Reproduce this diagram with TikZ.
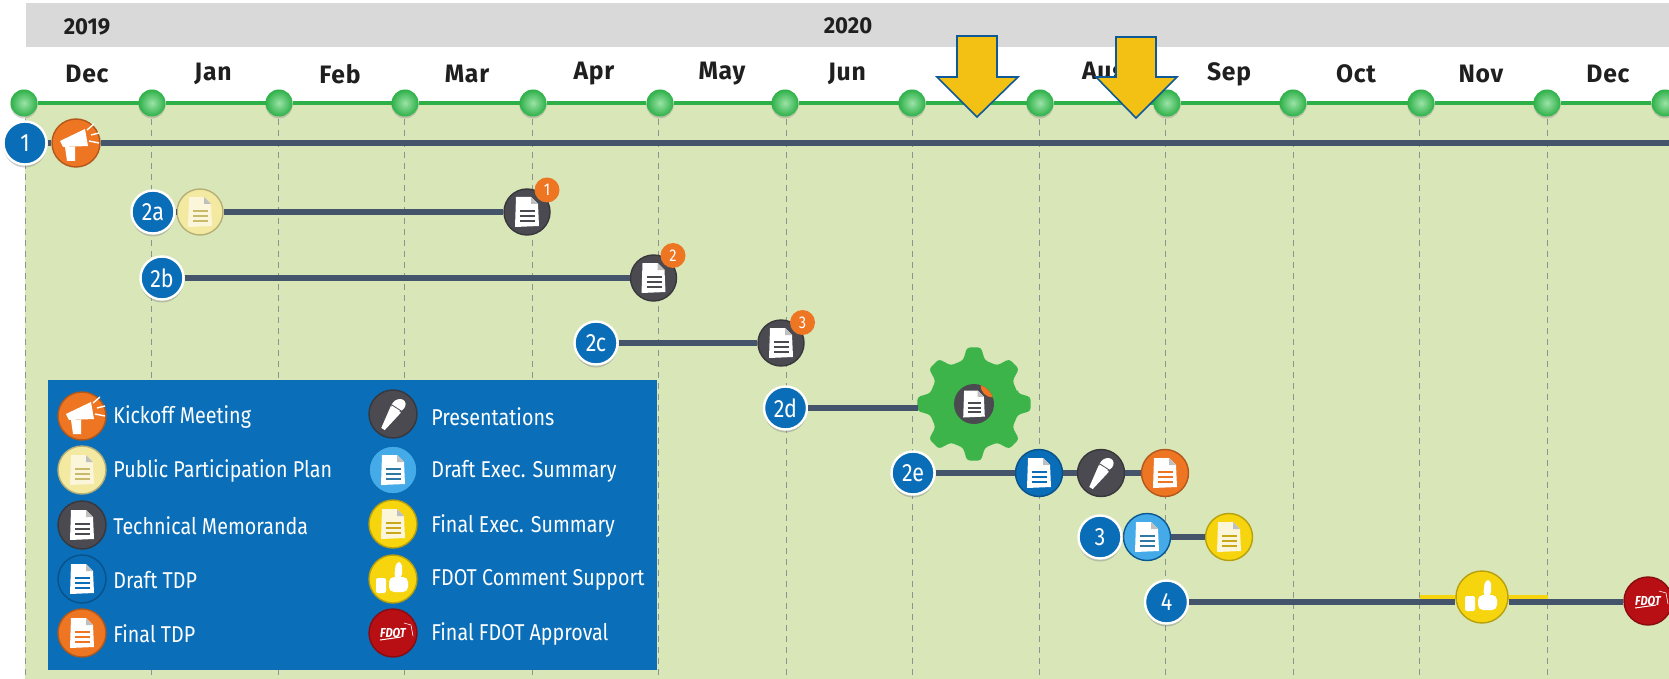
\documentclass[tikz,border=0pt]{standalone}
\usepackage{fontspec}
\setmainfont{Fira Sans}
\newfontfamily\lgfont{Fira Sans}[FakeStretch=0.86]
\newfontfamily\hdfont{Fira Sans}[FakeStretch=0.96]
\newfontfamily\mofont{Fira Sans}[FakeStretch=0.98,LetterSpace=3]
\usetikzlibrary{shadows}
\definecolor{bandgreen}{HTML}{D8E6B8}
\definecolor{bargray}{HTML}{D9D9D9}
\definecolor{tlgreen}{HTML}{2DB048}
\definecolor{dotlight}{HTML}{9BE3A6}
\definecolor{dashgray}{HTML}{8A9490}
\definecolor{conn}{HTML}{44546A}
\definecolor{numblue}{HTML}{0A6DB7}
\definecolor{lgblue}{HTML}{0A6EB8}
\definecolor{kickorange}{HTML}{EE7623}
\definecolor{plancream}{HTML}{F3E9A0}
\definecolor{planline}{HTML}{C9B96A}
\definecolor{planpaper}{HTML}{FBF6DA}
\definecolor{memodark}{HTML}{4A4A50}
\definecolor{draftblue}{HTML}{0A6DB7}
\definecolor{execblue}{HTML}{45ABE8}
\definecolor{execyellow}{HTML}{F6D50F}
\definecolor{execline}{HTML}{C9A61A}
\definecolor{fdotred}{HTML}{B80F14}
\definecolor{arrowfill}{HTML}{F2C114}
\definecolor{arrowline}{HTML}{0F5A96}
\definecolor{gearg}{HTML}{3CB44A}
\tikzset{
  hdtext/.style={font=\hdfont\bfseries\fontsize{11.5}{13}\selectfont,text=black!88,inner sep=0pt},
  motext/.style={font=\mofont\bfseries\fontsize{12.6}{14}\selectfont,text=black!88,inner sep=0pt},
  lgtext/.style={font=\lgfont\fontsize{11.45}{13}\selectfont,text=white,anchor=west,inner sep=0pt},
  dot/.style={circle,minimum size=13.5pt,inner sep=0pt,shading=radial,inner color=dotlight,outer color=tlgreen,drop shadow={shadow xshift=0pt,shadow yshift=-1pt,opacity=.35}},
  numnode/.style={circle,minimum size=21.5pt,inner sep=0pt,fill=numblue,draw=white,line width=1.2pt,text=white,font=\lgfont\fontsize{12.5}{14}\selectfont,drop shadow={shadow xshift=0pt,shadow yshift=-1.5pt,opacity=.4}},
  ico/.style 2 args={circle,minimum size=#2,inner sep=0pt,fill=#1,draw=#1!75!black,line width=.7pt},
  badge/.style={circle,minimum size=12.5pt,inner sep=0pt,fill=kickorange,text=white,font=\lgfont\fontsize{8.5}{9}\selectfont},
  fdottext/.style={text=white,font=\lgfont\bfseries\itshape\fontsize{6.5}{7}\selectfont},
  linkline/.style={draw=conn,line width=2.8pt},
  gridline/.style={draw=dashgray,line width=.5pt,dash pattern=on 3pt off 2.5pt},
  downarrow/.style={fill=arrowfill,draw=arrowline,line width=.8pt,line join=miter},
  pics/docg/.style 2 args={code={
    \fill[#1] (-11,-15)--(4,-15)--(11,-8)--(12,14)--(-12,15)--cycle;
    \fill[black!25] (4,-15)--(11,-8)--(4,-8)--cycle;
    \draw[#2,line width=1.1pt] (-7,-1)--(8,-1) (-7,4)--(8,4) (-7,9)--(8,9);
  }},
  pics/megaph/.style={code={
    \fill[white] (-16,-2)--(9,-14)--(12,3)--(-13,4)--cycle;
    \fill[white] (-11,4)--(-1,4)--(-1,18)--(-9,18)--cycle;
    \draw[white,line width=.7pt] (11,-13)--(18,-19) (15,-8)--(23,-10) (13,-2)--(23,0);
  }},
  pics/micg/.style={code={
    \fill[white] (7.9,-1.3)--(-2.2,-7.9)--(-11.7,13.9)--(-8.3,16.1)--cycle;
    \fill[white,rotate around={33:(5.5,-8.5)}] (5.5,-8.5) ellipse (7.5 and 6);
    \draw[memodark,line width=.4pt] (-1,-9)--(9,-2.5);
  }},
  pics/thumbg/.style={code={
    \fill[white,rounded corners=1pt] (-17,-1) rectangle (-7,14);
    \fill[white,rounded corners=2.5pt] (-4,-2) rectangle (15,13);
    \fill[white,rounded corners=2pt] (1,-1)--(3,-17)--(9,-17)--(9,-1)--cycle;
  }},
  pics/fdotg/.style={code={
    \draw[white,line width=.5pt] (-13,7)--(8,4);
    \draw[white,line width=.3pt] (11,-10)--(18,-8)--(20,3);
  }},
}
\begin{document}
\begin{tikzpicture}[x=0.5pt,y=-0.5pt]
\useasboundingbox (0,0) rectangle (1669,679);
\fill[white] (0,0) rectangle (1669,679);
\fill[bargray] (26,3) rectangle (1669,47);
\fill[bandgreen] (25,103) rectangle (1669,679);
% white patch behind second arrow
\fill[white] (1092,48) rectangle (1181,103);
% month grid
\foreach \x in {25,151,278,404,532,658,786,912,1039,1165,1293,1419,1547}{
  \draw[gridline] (\x,108) -- (\x,679);
}
% header labels
\node[hdtext] (y2019) at (87,27) {2019};
\node[hdtext] (y2020) at (848,26) {2020};
\node[motext] (mdec) at (87,74) {Dec};
\node[motext] (mjan) at (213,74) {Jan};
\node[motext] (mfeb) at (340,74) {Feb};
\node[motext] (mmar) at (467,74) {Mar};
\node[motext] (mapr) at (594,74) {Apr};
\node[motext] (mmay) at (722,74) {May};
\node[motext] (mjun) at (847,74) {Jun};
\node[motext] (maug) at (1104,74) {Aug};
\node[motext] (msep) at (1229,74) {Sep};
\node[motext] (moct) at (1356,74) {Oct};
\node[motext] (mnov) at (1481,74) {Nov};
\node[motext] (mdec2) at (1608,74) {Dec};
% timeline dots
\foreach \n/\x in {1/24,2/152,3/279,4/405,5/533,6/660,7/785,8/912,9/1040,10/1167,11/1293,12/1421,13/1547,14/1665}{
  \node[dot] (d\n) at (\x,103) {};
}
\foreach \a/\b in {1/2,2/3,3/4,4/5,5/6,6/7,7/8,8/9,9/10,10/11,11/12,12/13,13/14}{
  \draw[tlgreen,line width=2.3pt] (d\a) -- (d\b);
}
% row 1
\coordinate (rowend) at (1669,143);
\node[numnode] (n1) at (25,143) {1};
\node[ico={kickorange}{24pt}] (kick) at (76,143) {};
\pic at (kick) {megaph};
\draw[linkline] (n1) -- (kick);
\draw[linkline] (kick) -- (rowend);
% row 2a
\node[numnode] (n2a) at (153,212) {2a};
\node[ico={plancream}{23pt}] (plan) at (200,212) {};
\pic at (plan) {docg={planpaper}{planline}};
\node[ico={memodark}{23pt}] (m1) at (527,212) {};
\pic at (m1) {docg={white}{memodark}};
\node[badge] (b1) at (547,190) {1};
\draw[linkline] (n2a) -- (plan);
\draw[linkline] (plan) -- (m1);
% row 2b
\node[numnode] (n2b) at (162,278) {2b};
\node[ico={memodark}{23pt}] (m2) at (653.5,278) {};
\pic at (m2) {docg={white}{memodark}};
\node[badge] (b2) at (673,255.5) {2};
\draw[linkline] (n2b) -- (m2);
% row 2c
\node[numnode] (n2c) at (596,343) {2c};
\node[ico={memodark}{23pt}] (m3) at (781,343) {};
\pic at (m3) {docg={white}{memodark}};
\node[badge] (b3) at (802.5,322.5) {3};
\draw[linkline] (n2c) -- (m3);
% row 2d with gear
\node[numnode] (n2d) at (785.5,408) {2d};
\begin{scope}[shift={(974,404)}]
  \fill[gearg,rounded corners=1.5pt] (-14:45)
  \foreach \a in {0,45,...,315}{
    -- ({\a-14}:45) -- ({\a-7}:57) -- ({\a+7}:57) -- ({\a+14}:45)
  } -- cycle;
\end{scope}
\node[circle,minimum size=56pt,inner sep=0pt] (gear) at (974,404) {};
\begin{scope}
  \clip (974,404) circle (20);
  \node[ico={memodark}{21pt}] (m4) at (974,404) {};
  \pic[scale=.9] at (m4) {docg={white}{memodark}};
  \node[badge] (b4) at (993,385) {};
\end{scope}
\draw[linkline] (n2d) -- (gear.west |- n2d);
% row 2e
\node[numnode] (n2e) at (913,473) {2e};
\node[ico={draftblue}{23.5pt}] (dtdp) at (1039,473) {};
\pic at (dtdp) {docg={white}{draftblue}};
\node[ico={memodark}{23.5pt}] (mic) at (1101,473) {};
\pic at (mic) {micg};
\node[ico={kickorange}{23.5pt}] (ftdp) at (1165,473) {};
\pic at (ftdp) {docg={white}{kickorange}};
\draw[linkline] (n2e) -- (dtdp);
\draw[linkline] (dtdp) -- (mic);
\draw[linkline] (mic) -- (ftdp);
% row 3
\node[numnode] (n3) at (1100,537) {3};
\node[ico={execblue}{23.5pt},draw=numblue!80!black] (dex) at (1147,537) {};
\pic at (dex) {docg={white}{execblue!70!black}};
\node[ico={execyellow}{23.5pt}] (fex) at (1229,537) {};
\pic at (fex) {docg={planpaper}{execline}};
\draw[linkline] (n3) -- (dex);
\draw[linkline] (dex) -- (fex);
% row 4
\coordinate (yl) at (1420,597);
\coordinate (yr) at (1548,597);
\draw[execyellow,line width=2.5pt] (yl) -- (yr);
\node[numnode] (n4) at (1166.5,602) {4};
\node[ico={execyellow}{26pt}] (thumb) at (1482,597) {};
\pic at (thumb) {thumbg};
\node[ico={fdotred}{24pt},fdottext] (fdot) at (1648,601) {FDOT};
\pic at (fdot) {fdotg};
\draw[linkline] (n4.east) -- (thumb.west |- n4.east);
\draw[linkline] (thumb.east |- n4.east) -- (fdot.west |- n4.east);
% legend
\fill[lgblue] (48,380) rectangle (657,670);
\node[ico={kickorange}{24pt}] (lk) at (82,416) {};
\pic at (lk) {megaph};
\node[lgtext] (tk) at (113,417) {Kickoff Meeting};
\node[ico={plancream}{24pt}] (lp) at (82,470) {};
\pic at (lp) {docg={planpaper}{planline}};
\node[lgtext] (tp) at (113,471) {Public Participation Plan};
\node[ico={memodark}{24pt}] (lm) at (82,525) {};
\pic at (lm) {docg={white}{memodark}};
\node[lgtext] (tm) at (113,526) {Technical Memoranda};
\node[ico={draftblue}{24pt}] (ld) at (82,579) {};
\pic at (ld) {docg={white}{draftblue}};
\node[lgtext] (td) at (113,580) {Draft TDP};
\node[ico={kickorange}{24pt}] (lf) at (82,633) {};
\pic at (lf) {docg={white}{kickorange}};
\node[lgtext] (tf) at (113,634) {Final TDP};
\node[ico={memodark}{24pt}] (lmic) at (393,414) {};
\pic at (lmic) {micg};
\node[lgtext] (tmic) at (431,417) {Presentations};
\node[ico={execblue}{24pt},draw=numblue] (lde) at (393,470) {};
\pic at (lde) {docg={white}{execblue!70!black}};
\node[lgtext] (tde) at (431,471) {Draft Exec. Summary};
\node[ico={execyellow}{24pt}] (lfe) at (393,524) {};
\pic at (lfe) {docg={planpaper}{execline}};
\node[lgtext] (tfe) at (431,526) {Final Exec. Summary};
\node[ico={execyellow}{24pt}] (lth) at (393,579) {};
\pic at (lth) {thumbg};
\node[lgtext] (tth) at (431,580) {FDOT Comment Support};
\node[ico={fdotred}{24pt},fdottext] (lfd) at (393,633) {FDOT};
\pic at (lfd) {fdotg};
\node[lgtext] (tfd) at (431,634) {Final FDOT Approval};
% yellow arrows
\draw[downarrow] (957,36)--(997,36)--(997,77)--(1018,77)--(977,117)--(937,77)--(957,77)--cycle;
\draw[downarrow] (1116,37)--(1156,37)--(1156,77)--(1177,77)--(1136,118)--(1096,77)--(1116,77)--cycle;
\end{tikzpicture}
\end{document}
